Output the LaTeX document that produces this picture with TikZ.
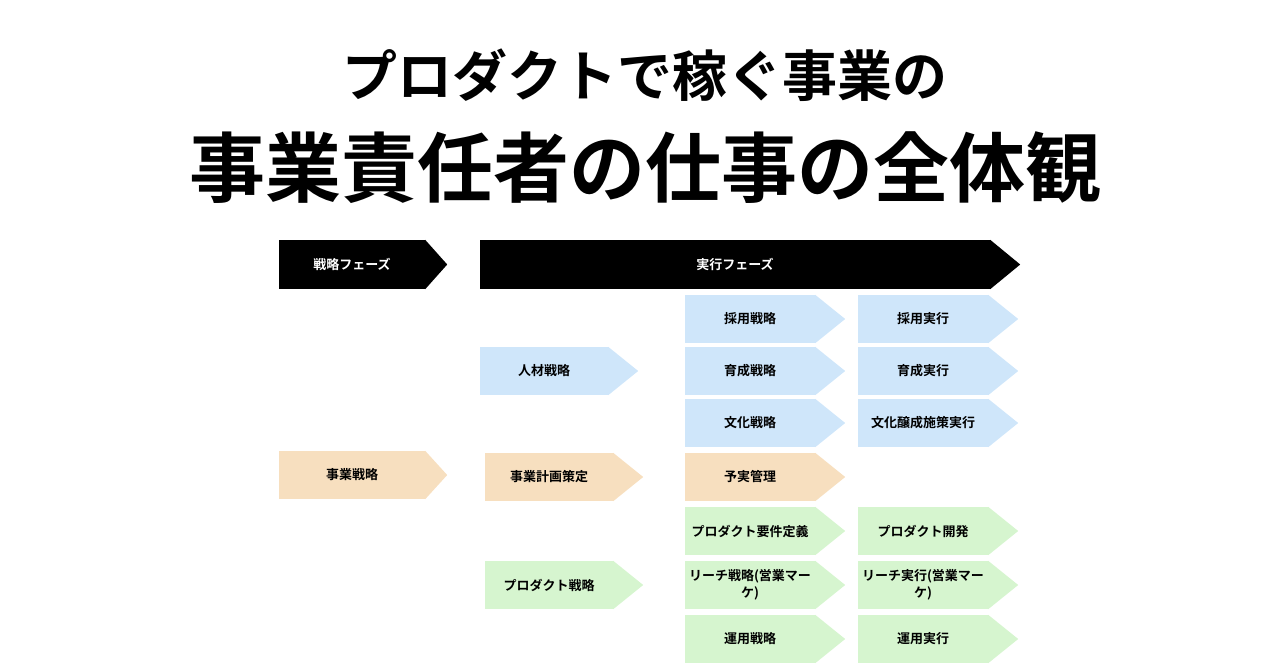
\documentclass[tikz,border=0pt]{standalone}
\usepackage{fontspec}
\setmainfont{Noto Sans CJK JP}[BoldFont={Noto Sans CJK JP Bold}]
\usetikzlibrary{positioning}
\definecolor{hrblue}{HTML}{CFE6FA}
\definecolor{bizorange}{HTML}{F7DFBF}
\definecolor{prodgreen}{HTML}{D6F5CF}
% body of a step: rectangle, the tip is added by \steptip
\tikzset{
  stepbox/.style={rectangle, inner sep=0pt, minimum height=48pt, text width=124pt,
    align=center, font=\fontsize{13}{17}\selectfont\bfseries},
  phase/.style={stepbox, fill=black, text=white, minimum height=49pt},
}
\newcommand{\steptip}[3]{% node, tip length, colour
  \fill[#3] (#1.north east) -- ([xshift=#2pt]#1.east) -- (#1.south east) -- cycle;}
\begin{document}
\begin{tikzpicture}[x=1pt,y=-1pt]
\useasboundingbox (0,0) rectangle (1280,670);
\node[font=\fontsize{55}{60}\selectfont\bfseries] (title1) at (645,75) {プロダクトで稼ぐ事業の};
\node[font=\fontsize{76}{82}\selectfont\bfseries] (title2) at (645,168) {事業責任者の仕事の全体観};

% phases
\node[phase, minimum width=146pt] (strat) at (352,264.5) {戦略フェーズ};
\steptip{strat}{22}{black}
\node[phase, minimum width=510pt] (exec) at (735,264.5) {実行フェーズ};
\steptip{exec}{30}{black}

% column 1/2
\node[stepbox, fill=bizorange, minimum width=146pt] (biz) at (352,475) {事業戦略};
\steptip{biz}{22}{bizorange}
\node[stepbox, fill=hrblue, minimum width=128pt] (hr) at (544,371) {人材戦略};
\steptip{hr}{30}{hrblue}
\node[stepbox, fill=bizorange, minimum width=128pt] (plan) at (549,477) {事業計画策定};
\steptip{plan}{30}{bizorange}
\node[stepbox, fill=prodgreen, minimum width=128pt] (prod) at (549,585) {プロダクト戦略};
\steptip{prod}{30}{prodgreen}

% column 3
\node[stepbox, fill=hrblue, minimum width=130pt] (hire) at (750,319) {採用戦略};
\steptip{hire}{30}{hrblue}
\node[stepbox, fill=hrblue, minimum width=130pt] (train) at (750,371) {育成戦略};
\steptip{train}{30}{hrblue}
\node[stepbox, fill=hrblue, minimum width=130pt] (culture) at (750,423) {文化戦略};
\steptip{culture}{30}{hrblue}
\node[stepbox, fill=bizorange, minimum width=130pt] (budget) at (750,477) {予実管理};
\steptip{budget}{30}{bizorange}
\node[stepbox, fill=prodgreen, minimum width=130pt] (req) at (750,531) {プロダクト要件定義};
\steptip{req}{30}{prodgreen}
\node[stepbox, fill=prodgreen, minimum width=130pt] (reach) at (750,585) {リーチ戦略(営業マー\\ケ)};
\steptip{reach}{30}{prodgreen}
\node[stepbox, fill=prodgreen, minimum width=130pt] (ops) at (750,639) {運用戦略};
\steptip{ops}{30}{prodgreen}

% column 4
\node[stepbox, fill=hrblue, minimum width=130pt] (hirex) at (923,319) {採用実行};
\steptip{hirex}{30}{hrblue}
\node[stepbox, fill=hrblue, minimum width=130pt] (trainx) at (923,371) {育成実行};
\steptip{trainx}{30}{hrblue}
\node[stepbox, fill=hrblue, minimum width=130pt] (culturex) at (923,423) {文化醸成施策実行};
\steptip{culturex}{30}{hrblue}
\node[stepbox, fill=prodgreen, minimum width=130pt] (dev) at (923,531) {プロダクト開発};
\steptip{dev}{30}{prodgreen}
\node[stepbox, fill=prodgreen, minimum width=130pt] (reachx) at (923,585) {リーチ実行(営業マー\\ケ)};
\steptip{reachx}{30}{prodgreen}
\node[stepbox, fill=prodgreen, minimum width=130pt] (opsx) at (923,639) {運用実行};
\steptip{opsx}{30}{prodgreen}
\end{tikzpicture}
\end{document}
